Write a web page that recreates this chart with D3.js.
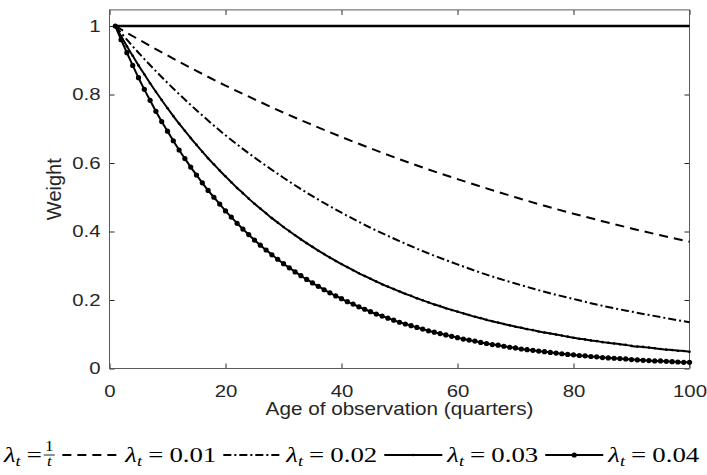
<!DOCTYPE html>
<html>
<head>
<meta charset="utf-8">
<script src="https://cdn.jsdelivr.net/npm/d3@7"></script>
<style>
  body { margin: 0; background: #fff; }
  text { white-space: pre; }
</style>
</head>
<body>
<div id="chart"></div>
<script>
// Age of observation (quarters)
const coarseAges = [1, 5, 10, 15, 20, 25, 30, 35, 40, 45, 50, 55, 60, 65, 70, 75, 80, 85, 90, 95, 100];
const fineAges = d3.range(1, 101);

// Weights
const weightInv = [1, 1, 1, 1, 1, 1, 1, 1, 1, 1, 1, 1, 1, 1, 1, 1, 1, 1, 1, 1, 1];
const weight01 = [1, 0.961, 0.914, 0.869, 0.826, 0.786, 0.747, 0.711, 0.676, 0.643, 0.611,
  0.581, 0.553, 0.526, 0.500, 0.475, 0.452, 0.430, 0.409, 0.389, 0.370];
const weight02 = [1, 0.922, 0.834, 0.754, 0.681, 0.616, 0.557, 0.503, 0.455, 0.411, 0.372,
  0.336, 0.304, 0.274, 0.248, 0.224, 0.203, 0.183, 0.166, 0.150, 0.135];
const weight03 = [1, 0.970, 0.941, 0.913, 0.885, 0.859, 0.833, 0.808, 0.784, 0.760,
  0.737, 0.715, 0.694, 0.673, 0.653, 0.633, 0.614, 0.596, 0.578, 0.561,
  0.544, 0.527, 0.512, 0.496, 0.481, 0.467, 0.453, 0.439, 0.426, 0.413,
  0.401, 0.389, 0.377, 0.366, 0.355, 0.344, 0.334, 0.324, 0.314, 0.305,
  0.296, 0.287, 0.278, 0.270, 0.262, 0.254, 0.246, 0.239, 0.232, 0.225,
  0.218, 0.212, 0.205, 0.199, 0.193, 0.187, 0.182, 0.176, 0.171, 0.166,
  0.161, 0.156, 0.151, 0.147, 0.142, 0.138, 0.134, 0.130, 0.126, 0.122,
  0.119, 0.115, 0.112, 0.108, 0.105, 0.102, 0.099, 0.096, 0.093, 0.090,
  0.087, 0.085, 0.082, 0.080, 0.077, 0.075, 0.073, 0.071, 0.069, 0.066,
  0.064, 0.063, 0.061, 0.059, 0.057, 0.055, 0.054, 0.052, 0.051, 0.049];
const weight04 = [1, 0.960, 0.922, 0.885, 0.849, 0.815, 0.783, 0.751, 0.721, 0.693,
  0.665, 0.638, 0.613, 0.588, 0.565, 0.542, 0.520, 0.500, 0.480, 0.460,
  0.442, 0.424, 0.407, 0.391, 0.375, 0.360, 0.346, 0.332, 0.319, 0.306,
  0.294, 0.282, 0.271, 0.260, 0.250, 0.240, 0.230, 0.221, 0.212, 0.204,
  0.195, 0.188, 0.180, 0.173, 0.166, 0.159, 0.153, 0.147, 0.141, 0.135,
  0.130, 0.125, 0.120, 0.115, 0.110, 0.106, 0.102, 0.098, 0.094, 0.090,
  0.086, 0.083, 0.080, 0.076, 0.073, 0.070, 0.068, 0.065, 0.062, 0.060,
  0.057, 0.055, 0.053, 0.051, 0.049, 0.047, 0.045, 0.043, 0.041, 0.040,
  0.038, 0.037, 0.035, 0.034, 0.032, 0.031, 0.030, 0.029, 0.028, 0.026,
  0.025, 0.024, 0.023, 0.022, 0.022, 0.021, 0.020, 0.019, 0.018, 0.018];

const xTicks = [0, 20, 40, 60, 80, 100];
const yTicks = [0, 0.2, 0.4, 0.6, 0.8, 1];
const legendValues = ["1/t", "0.01", "0.02", "0.03", "0.04"];

const series = [
  { ages: coarseAges, values: weightInv, width: 2.4, dash: null, marker: 0 },
  { ages: coarseAges, values: weight01, width: 2, dash: "9,6", marker: 0 },
  { ages: coarseAges, values: weight02, width: 2, dash: "8,3,2,3", marker: 0 },
  { ages: fineAges, values: weight03, width: 2, dash: null, marker: 1.3 },
  { ages: fineAges, values: weight04, width: 2, dash: null, marker: 2.6 }
];

const width = 707, height = 475;
const sansFont = "'Liberation Sans', Arial, sans-serif";
const serifFont = "'Liberation Serif', 'Times New Roman', serif";
const textColor = "#262626";
const textStretch = 1.2;
const legendStretch = 1.22;

const svg = d3.select("#chart").append("svg")
  .attr("width", width)
  .attr("height", height);

const x = d3.scaleLinear().domain([0, 100]).range([109.5, 689.5]);
const y = d3.scaleLinear().domain([0, 1]).range([368.5, 26]);
const yTop = y(1.047);

// Axes (ticks inside, mirrored on top and right)
const xAxis = svg.append("g")
  .attr("transform", `translate(0,${y(0)})`)
  .call(d3.axisBottom(x).tickValues(xTicks).tickSize(-5).tickPadding(16).tickFormat(d3.format("d")));
const yAxis = svg.append("g")
  .attr("transform", `translate(${x(0)},0)`)
  .call(d3.axisLeft(y).tickValues(yTicks).tickSize(-5).tickPadding(9).tickFormat(d => d === 0 || d === 1 ? d : d3.format(".1f")(d)));
svg.append("g")
  .attr("transform", `translate(0,${yTop})`)
  .call(d3.axisTop(x).tickValues(xTicks).tickSize(-5).tickFormat(""));
svg.append("g")
  .attr("transform", `translate(${x(100)},0)`)
  .call(d3.axisRight(y).tickValues(yTicks).tickSize(-5).tickFormat(""));

svg.selectAll(".domain").remove();
svg.selectAll(".tick line").attr("stroke", textColor);

[xAxis, yAxis].forEach(ax => ax.selectAll("text")
  .attr("fill", textColor)
  .style("font-family", sansFont)
  .style("font-size", "17px"));
xAxis.selectAll("text").attr("transform", `scale(${textStretch},1)`);
yAxis.selectAll("text").attr("transform", `scale(${textStretch},1)`)
  .attr("x", -9 / textStretch);

// Box
svg.append("rect")
  .attr("x", x(0))
  .attr("y", yTop)
  .attr("width", x(100) - x(0))
  .attr("height", y(0) - yTop)
  .attr("fill", "none")
  .attr("stroke", "#5a5a5a")
  .attr("stroke-width", 1);

// Axis labels
svg.append("g")
  .attr("transform", `translate(${(x(0) + x(100)) / 2},415) scale(1.15,1)`)
  .append("text")
  .attr("text-anchor", "middle")
  .attr("fill", textColor)
  .style("font-family", sansFont)
  .style("font-size", "18px")
  .text("Age of observation (quarters)");

svg.append("text")
  .attr("transform", `translate(61,${(y(0) + yTop) / 2}) rotate(-90)`)
  .attr("text-anchor", "middle")
  .attr("fill", textColor)
  .style("font-family", sansFont)
  .style("font-size", "20px")
  .text("Weight");

// Lines
const plot = svg.append("g");
series.forEach(s => {
  const pts = s.ages.map((a, i) => [a, s.values[i]]);
  const line = d3.line()
    .x(d => x(d[0]))
    .y(d => y(d[1]))
    .curve(d3.curveMonotoneX);
  plot.append("path")
    .datum(pts)
    .attr("fill", "none")
    .attr("stroke", "#000")
    .attr("stroke-width", s.width)
    .attr("stroke-dasharray", s.dash)
    .attr("d", line);
  if (s.marker > 0) {
    plot.append("g").selectAll("circle")
      .data(pts)
      .join("circle")
      .attr("cx", d => x(d[0]))
      .attr("cy", d => y(d[1]))
      .attr("r", s.marker)
      .attr("fill", "#000");
  }
});

// Legend below the axes
const legend = svg.append("g").attr("transform", "translate(0,462)");
const sampleW = 58;
let cursor = 4;

function drawLabel(g, value) {
  const inner = g.append("g").attr("transform", `scale(${legendStretch},1)`);
  const t = inner.append("text")
    .attr("fill", "#000")
    .style("font-family", serifFont)
    .style("font-size", "22px");
  t.append("tspan").attr("font-style", "italic").text("λ");
  t.append("tspan").attr("font-style", "italic").attr("font-size", "15px").attr("dy", 4).text("t");
  t.append("tspan").attr("dy", -4).attr("dx", 5).text("=");
  if (value !== "1/t") t.append("tspan").attr("dx", 5).text(value);
  let w = t.node().getComputedTextLength() + (value === "1/t" ? 5 : 10);
  if (value === "1/t") {
    const fx = w + 6;
    inner.append("text").attr("x", fx).attr("y", -11).attr("text-anchor", "middle")
      .style("font-family", serifFont).style("font-size", "14px").text("1");
    inner.append("line").attr("x1", fx - 4.5).attr("x2", fx + 4.5).attr("y1", -7).attr("y2", -7)
      .attr("stroke", "#000").attr("stroke-width", 0.8);
    inner.append("text").attr("x", fx).attr("y", 4).attr("text-anchor", "middle")
      .style("font-family", serifFont).style("font-size", "14px").style("font-style", "italic").text("t");
    w = fx + 5;
  }
  return w * legendStretch;
}

legendValues.forEach((v, i) => {
  const s = series[i];
  if (i > 0) {
    legend.append("line")
      .attr("x1", cursor).attr("x2", cursor + sampleW)
      .attr("y1", -7).attr("y2", -7)
      .attr("stroke", "#000")
      .attr("stroke-width", s.width)
      .attr("stroke-dasharray", s.dash);
    if (s.marker > 0) {
      legend.append("circle")
        .attr("cx", cursor + sampleW / 2).attr("cy", -7)
        .attr("r", s.marker).attr("fill", "#000");
    }
    cursor += sampleW + 5;
  }
  const g = legend.append("g").attr("transform", `translate(${cursor},0)`);
  cursor += drawLabel(g, v) + 7;
});
</script>
</body>
</html>
